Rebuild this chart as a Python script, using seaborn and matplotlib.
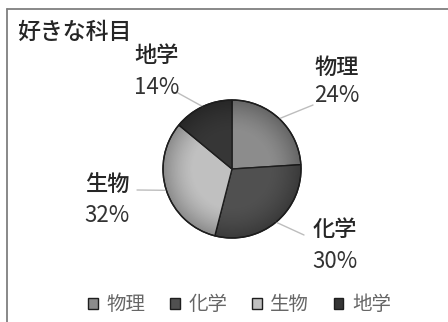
import matplotlib
matplotlib.use("Agg")
import matplotlib.pyplot as plt
import seaborn as sns
import numpy as np
from matplotlib.lines import Line2D
from matplotlib.patches import Circle

# ---- data ----
subjects = ["物理", "化学", "生物", "地学"]
shares = [24, 30, 32, 14]
title = "好きな科目"

# ---- style ----
sns.set_theme(style="white")
plt.rcParams['font.family'] = ['Noto Sans CJK JP', 'DejaVu Sans']
colors = ["#8c8c8c", "#505050", "#c0c0c0", "#363636"]

W, H = 448, 322
fig = plt.figure(figsize=(W / 100, H / 100), dpi=100)
fig.patch.set_facecolor("white")

cx, cy, r = 232, 169, 69  # pixel layout of pie
ax = fig.add_axes([0, 0, 1, 1])

wedges, _ = ax.pie(shares, colors=colors, startangle=90, counterclock=False,
                   radius=1.0, center=(0, 0), frame=True,
                   wedgeprops=dict(edgecolor="#1e1e1e", linewidth=1.0))
ax.set_aspect("equal")
ax.axis("off")

# subtle radial shading like the original's bevelled pie
g = np.linspace(-1, 1, 300)
gx, gy = np.meshgrid(g, g)
rr = np.sqrt(gx ** 2 + gy ** 2)
shade = np.zeros((300, 300, 4))
shade[..., 3] = np.clip((rr - 0.55) / 0.45, 0, 1) ** 1.5 * 0.28
img = ax.imshow(shade, extent=(-1, 1, -1, 1), origin="lower", zorder=3, interpolation="bilinear")
img.set_clip_path(Circle((0, 0), 1.0, transform=ax.transData))
ax.add_patch(Circle((0, 0), 1.0, fill=False, edgecolor="#1e1e1e", lw=1.0, zorder=4))
ax.set_xlim(-cx / r, (W - cx) / r)
ax.set_ylim(-(H - cy) / r, cy / r)


def to_data(p):
    return ((p[0] - cx) / r, (cy - p[1]) / r)


# label layout (pixel positions): name centre, percent centre, leader end
label_px = {
    "物理": ((337, 67), (337, 96), (313, 105)),
    "化学": ((335, 229), (335, 261), (304, 235)),
    "生物": ((107, 184), (107, 215), (137, 190)),
    "地学": ((157, 56), (157, 88), (178, 93)),
}
total = sum(shares)
for w, name, val in zip(wedges, subjects, shares):
    mid = np.deg2rad((w.theta1 + w.theta2) / 2)
    anchor = (np.cos(mid), np.sin(mid))
    p_name, p_pct, p_end = label_px[name]
    ax.text(*to_data(p_name), name, ha="center", va="center", fontsize=16,
            color="#262626", fontweight="medium", zorder=5)
    ax.text(*to_data(p_pct), f"{round(val / total * 100)}%", ha="center", va="center",
            fontsize=16, color="#333333", zorder=5)
    ax.annotate("", xy=anchor, xytext=to_data(p_end),
                arrowprops=dict(arrowstyle="-", color="#bdbdbd", lw=1.0,
                                shrinkA=0, shrinkB=0))

fig.text(17 / W, 1 - 32 / H, title, ha="left", va="center", fontsize=16.5,
         color="#262626", fontweight="medium")

leg = fig.legend(wedges, subjects, loc="center", bbox_to_anchor=(0.535, 1 - 305 / H),
                 ncol=4, frameon=False, fontsize=14, handlelength=0.5, handleheight=0.5,
                 handletextpad=0.45, columnspacing=1.25, labelcolor="#666666")

# outer border (extends past right/bottom edges)
fig.add_artist(Line2D([7 / W, 7 / W], [0, 1 - 9 / H], color="#7f7f7f", lw=1.3, transform=fig.transFigure))
fig.add_artist(Line2D([7 / W, 1], [1 - 9 / H, 1 - 9 / H], color="#7f7f7f", lw=1.3, transform=fig.transFigure))

fig.savefig("out.png", dpi=100, facecolor="white")
